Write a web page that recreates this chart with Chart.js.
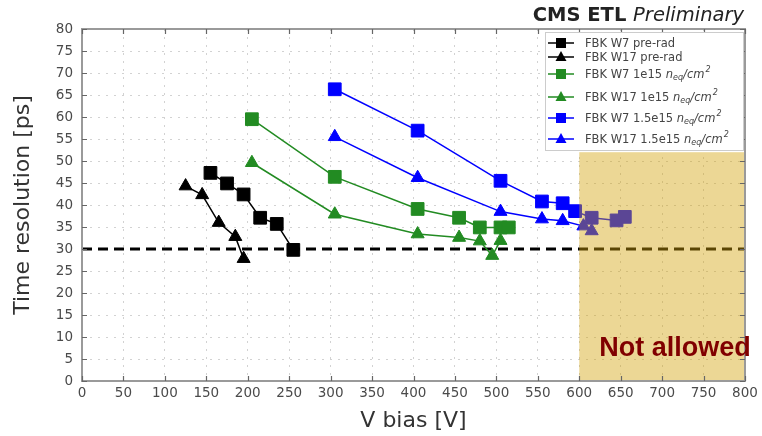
<!DOCTYPE html>
<html>
<head>
<meta charset="utf-8">
<script src="https://cdn.jsdelivr.net/npm/chart.js@4.4.1/dist/chart.umd.min.js"></script>
<style>
  html, body { margin: 0; padding: 0; background: #fff; }
  canvas { display: block; }
</style>
</head>
<body>
<canvas id="timeResChart" width="762" height="436"></canvas>
<script>
// bias voltage [V] and time resolution [ps] per sensor / fluence
const w7PreRadV = [155, 175, 195, 215, 235, 255];
const w7PreRadT = [47.3, 44.9, 42.4, 37.1, 35.7, 29.8];
const w17PreRadV = [125, 145, 165, 185, 195];
const w17PreRadT = [44.3, 42.3, 36.0, 32.8, 27.8];
const w7Fl1V = [205, 305, 405, 455, 480, 505, 515];
const w7Fl1T = [59.5, 46.4, 39.1, 37.1, 34.9, 34.9, 34.9];
const w17Fl1V = [205, 305, 405, 455, 480, 495, 505];
const w17Fl1T = [49.6, 37.9, 33.4, 32.6, 31.8, 28.5, 31.9];
const w7Fl15V = [305, 405, 505, 555, 580, 595, 615, 645, 655];
const w7Fl15T = [66.3, 56.9, 45.5, 40.8, 40.4, 38.6, 37.1, 36.5, 37.3];
const w17Fl15V = [305, 405, 505, 555, 580, 605, 615];
const w17Fl15T = [55.5, 46.2, 38.5, 36.8, 36.4, 35.2, 34.1];

// 30 ps target and the forbidden bias range
const targetV = [0, 800];
const targetT = [30, 30];
const notAllowedV = [600, 800];
const notAllowedT = [0, 52];

const xTicks = { min: 0, max: 800, step: 50 };
const yTicks = { min: 0, max: 80, step: 5 };

const GREEN = '#228b22';
const BLUE = '#0000ff';
const FONT = "'DejaVu Sans', sans-serif";

const pts = (xs, ys) => xs.map((x, i) => ({ x: x, y: ys[i] }));

function series(label, xs, ys, color, style, unit) {
  return {
    label: label,
    unit: unit,
    data: pts(xs, ys),
    showLine: true,
    borderColor: color,
    backgroundColor: color,
    borderWidth: 1.5,
    pointStyle: style,
    pointRadius: style === 'rect' ? 9 : 7.5,
    pointBorderWidth: 1,
    order: 1,
  };
}

const datasets = [
  series('FBK W7 pre-rad', w7PreRadV, w7PreRadT, '#000', 'rect', false),
  series('FBK W17 pre-rad', w17PreRadV, w17PreRadT, '#000', 'triangle', false),
  series('FBK W7 1e15 ', w7Fl1V, w7Fl1T, GREEN, 'rect', true),
  series('FBK W17 1e15 ', w17Fl1V, w17Fl1T, GREEN, 'triangle', true),
  series('FBK W7 1.5e15 ', w7Fl15V, w7Fl15T, BLUE, 'rect', true),
  series('FBK W17 1.5e15 ', w17Fl15V, w17Fl15T, BLUE, 'triangle', true),
  {
    label: 'target',
    legendHidden: true,
    data: pts(targetV, targetT),
    showLine: true,
    borderColor: '#000',
    borderWidth: 3,
    borderDash: [10, 6],
    pointRadius: 0,
    order: 5,
  },
];

function marker(ctx, style, x, y, color) {
  ctx.fillStyle = color;
  ctx.beginPath();
  if (style === 'rect') {
    ctx.rect(x - 5, y - 5, 10, 10);
  } else {
    ctx.moveTo(x, y - 6);
    ctx.lineTo(x + 5.5, y + 4);
    ctx.lineTo(x - 5.5, y + 4);
    ctx.closePath();
  }
  ctx.fill();
}

const decorPlugin = {
  id: 'decor',
  afterDatasetsDraw(chart) {
    const { ctx, chartArea: a, scales: { x, y } } = chart;
    ctx.save();

    // shaded "not allowed" range, drawn over the data
    const x0 = x.getPixelForValue(notAllowedV[0]);
    const x1 = x.getPixelForValue(notAllowedV[1]);
    const y0 = y.getPixelForValue(notAllowedT[0]);
    const y1 = y.getPixelForValue(notAllowedT[1]);
    ctx.fillStyle = 'rgba(210,163,10,0.43)';
    ctx.fillRect(x0, y1, x1 - x0, y0 - y1);

    // spines
    ctx.strokeStyle = '#9a9a9a';
    ctx.lineWidth = 2;
    ctx.strokeRect(a.left, a.top, a.right - a.left, a.bottom - a.top);

    // inward ticks on all four sides
    ctx.strokeStyle = '#666';
    ctx.lineWidth = 1.2;
    ctx.beginPath();
    for (let v = xTicks.min; v <= xTicks.max; v += xTicks.step) {
      const px = Math.round(x.getPixelForValue(v)) + 0.5;
      ctx.moveTo(px, a.bottom); ctx.lineTo(px, a.bottom - 5);
      ctx.moveTo(px, a.top); ctx.lineTo(px, a.top + 5);
    }
    for (let v = yTicks.min; v <= yTicks.max; v += yTicks.step) {
      const py = Math.round(y.getPixelForValue(v)) + 0.5;
      ctx.moveTo(a.left, py); ctx.lineTo(a.left + 5, py);
      ctx.moveTo(a.right, py); ctx.lineTo(a.right - 5, py);
    }
    ctx.stroke();

    // label in the shaded range
    ctx.fillStyle = '#800000';
    ctx.font = "bold 27px 'Liberation Sans', Arial, sans-serif";
    ctx.textBaseline = 'alphabetic';
    ctx.textAlign = 'left';
    ctx.fillText('Not allowed', x0 + 20, y0 - 25);

    // title
    ctx.fillStyle = '#222';
    ctx.textAlign = 'right';
    ctx.font = 'italic 19.5px ' + FONT;
    const pre = 'Preliminary';
    ctx.fillText(pre, a.right - 1, 21);
    const pw = ctx.measureText(pre).width;
    ctx.font = 'bold 19.5px ' + FONT;
    ctx.fillText('CMS ETL ', a.right - 1 - pw, 21);

    // legend
    const lx = 545, ly = 32, lw = 198, lh = 118;
    ctx.fillStyle = '#fff';
    ctx.fillRect(lx, ly, lw, lh);
    ctx.strokeStyle = '#cccccc';
    ctx.lineWidth = 1;
    ctx.strokeRect(lx + 0.5, ly + 0.5, lw, lh);
    const rows = [43, 57, 74, 97, 118, 139];
    ctx.textAlign = 'left';
    ctx.textBaseline = 'middle';
    chart.data.datasets.filter(d => !d.legendHidden).forEach((d, i) => {
      const ry = rows[i];
      ctx.strokeStyle = d.borderColor;
      ctx.lineWidth = 1.5;
      ctx.beginPath();
      ctx.moveTo(lx + 3, ry); ctx.lineTo(lx + 29, ry);
      ctx.stroke();
      marker(ctx, d.pointStyle, lx + 16, ry, d.borderColor);

      let tx = lx + 40;
      ctx.fillStyle = '#444';
      ctx.font = '11.5px ' + FONT;
      ctx.fillText(d.label, tx, ry + 1);
      if (d.unit) {
        tx += ctx.measureText(d.label).width;
        ctx.font = 'italic 11.5px ' + FONT;
        ctx.fillText('n', tx, ry + 1);
        tx += ctx.measureText('n').width;
        ctx.font = 'italic 8px ' + FONT;
        ctx.fillText('eq', tx, ry + 4);
        tx += ctx.measureText('eq').width;
        ctx.font = 'italic 11.5px ' + FONT;
        ctx.fillText('/cm', tx, ry + 1);
        tx += ctx.measureText('/cm').width + 1;
        ctx.font = 'italic 8px ' + FONT;
        ctx.fillText('2', tx, ry - 4);
      }
    });
    ctx.restore();
  },
};

Chart.defaults.font.family = FONT;
Chart.defaults.color = '#444';

new Chart(document.getElementById('timeResChart').getContext('2d'), {
  type: 'scatter',
  data: { datasets: datasets },
  options: {
    responsive: false,
    animation: false,
    devicePixelRatio: 1,
    layout: { padding: { left: 0, top: 29, right: 17, bottom: 0 } },
    plugins: { legend: { display: false }, tooltip: { enabled: false } },
    scales: {
      x: {
        type: 'linear',
        min: xTicks.min,
        max: xTicks.max,
        afterFit: s => { s.height = 55; },
        ticks: { stepSize: xTicks.step, padding: 4, font: { size: 13.5 }, color: '#4a4a4a' },
        grid: { color: '#d2d2d2', drawTicks: false, lineWidth: 1 },
        border: { display: false, dash: [2, 6] },
        title: { display: true, text: 'V bias [V]', font: { size: 22 }, color: '#333', padding: { top: 0, bottom: 2 } },
      },
      y: {
        type: 'linear',
        min: yTicks.min,
        max: yTicks.max,
        afterFit: s => { s.width = 82; },
        ticks: { stepSize: yTicks.step, padding: 9, font: { size: 13.5 }, color: '#4a4a4a' },
        grid: { color: '#d2d2d2', drawTicks: false, lineWidth: 1 },
        border: { display: false, dash: [2, 6] },
        title: { display: true, text: 'Time resolution [ps]', font: { size: 22 }, color: '#333', padding: { top: 10, bottom: 0 } },
      },
    },
  },
  plugins: [decorPlugin],
});
</script>
</body>
</html>
